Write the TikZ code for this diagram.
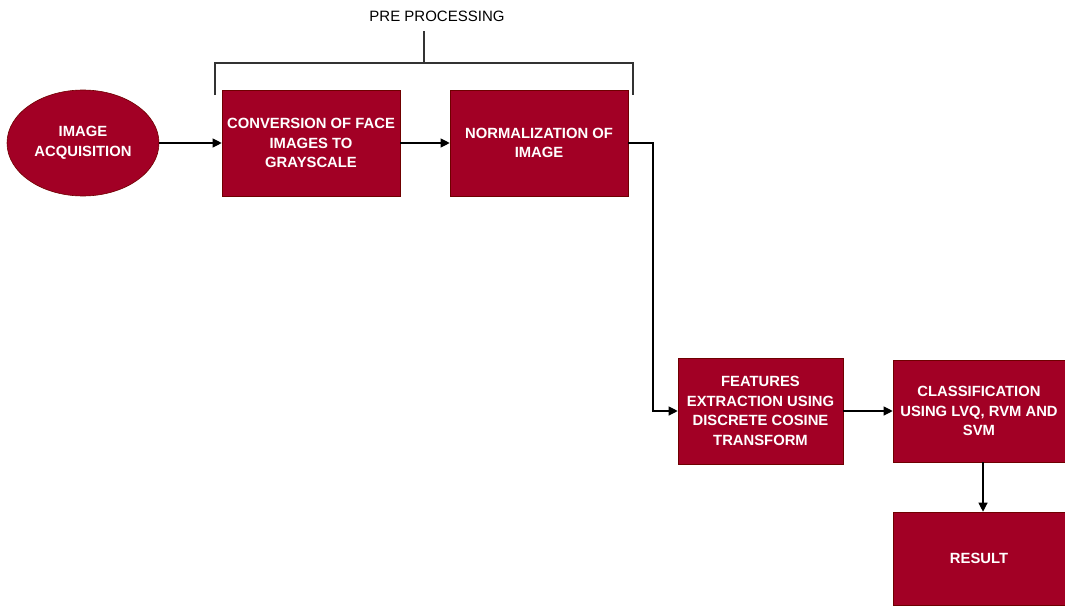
\documentclass[tikz,border=0pt]{standalone}
\usepackage{fontspec}
\setmainfont{Liberation Sans}
\usetikzlibrary{shapes.geometric,arrows.meta}
\definecolor{boxred}{HTML}{A20025}
\definecolor{boxedge}{HTML}{6F0000}
\tikzset{
  blk/.style={draw=boxedge,fill=boxred,text=white,font=\fontsize{14.8}{19.5}\selectfont\bfseries,align=center,inner sep=0pt,line width=0.6pt},
  conn/.style={draw=black,line width=1.1pt,-{Triangle[length=9pt,width=9pt]}},
  brk/.style={draw=black!80,line width=1.1pt}
}
\begin{document}
\begin{tikzpicture}[x=1pt,y=-1pt]
\useasboundingbox (0,0) rectangle (1065,605);
\node[blk,ellipse,minimum width=152pt,minimum height=106pt] (acq) at (83,143) {IMAGE\\ACQUISITION};
\node[blk,rectangle,minimum width=178pt,minimum height=106pt] (conv) at (311,143) {CONVERSION OF FACE\\IMAGES TO\\GRAYSCALE};
\node[blk,rectangle,minimum width=178pt,minimum height=106pt] (norm) at (539,143) {NORMALIZATION OF\\IMAGE};
\node[blk,rectangle,minimum width=165pt,minimum height=106pt] (feat) at (760.5,411) {FEATURES\\EXTRACTION USING\\DISCRETE COSINE\\TRANSFORM};
\node[blk,rectangle,minimum width=172pt,minimum height=102pt] (cls) at (979,411) {CLASSIFICATION\\USING LVQ, RVM AND\\SVM};
\node[blk,rectangle,minimum width=172pt,minimum height=93pt] (res) at (979,558.5) {RESULT};
\coordinate (bl) at (215,95);
\coordinate (br) at (633,95);
\coordinate (bm) at (424,63);
\node[font=\fontsize{15}{17}\selectfont] (pre) at (437,16) {PRE PROCESSING};
\draw[brk] (bl) -- (215,63) -- (633,63) -- (br);
\draw[brk] (bm) -- (424,31);
\draw[conn] (acq) -- (conv);
\draw[conn] (conv) -- (norm);
\draw[conn] (norm.east) -- (653,143) |- (feat.west);
\draw[conn] (feat) -- (cls);
\draw[conn] (cls.south -| 983,0) -- (res.north -| 983,0);
\end{tikzpicture}
\end{document}
